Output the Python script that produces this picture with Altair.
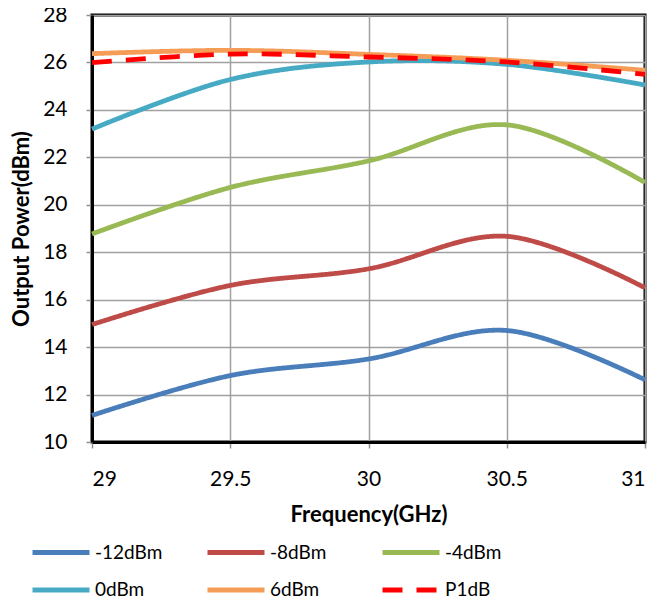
import altair as alt
import pandas as pd

freq = [29.0, 29.5, 30.0, 30.5, 31.0]
p_m12 = [11.12, 12.80, 13.50, 14.70, 12.62]
p_m8 = [14.95, 16.60, 17.30, 18.67, 16.50]
p_m4 = [18.77, 20.73, 21.85, 23.37, 20.94]
p_0 = [23.19, 25.28, 26.02, 25.92, 25.05]
p_6 = [26.37, 26.51, 26.34, 26.09, 25.67]
p_1db = [25.99, 26.35, 26.23, 26.02, 25.50]

series = ["-12dBm", "-8dBm", "-4dBm", "0dBm", "6dBm", "P1dB"]
colors = ["#4A7EBB", "#BE4B48", "#98B954", "#46AAC5", "#F59D56", "#FF0000"]
dashes = [[1, 0], [1, 0], [1, 0], [1, 0], [1, 0], [20, 14]]
x_ticks = [29, 29.5, 30, 30.5, 31]
y_ticks = [10, 12, 14, 16, 18, 20, 22, 24, 26, 28]

values = [p_m12, p_m8, p_m4, p_0, p_6, p_1db]
rows = []
for s, vals in zip(series, values):
    for f, v in zip(freq, vals):
        rows.append({"series": s, "freq": f, "power": v, "order": series.index(s)})
df = pd.DataFrame(rows)

FONT = "Lato"


def make_legend():
    return alt.Legend(orient="none", legendX=-62, legendY=527.5,
                      direction="horizontal", columns=3,
                      symbolType="stroke", symbolSize=3249, clipHeight=20,
                      symbolStrokeWidth=5, labelFont=FONT,
                      labelFontSize=19, labelColor="black",
                      columnPadding=42, rowPadding=17.5,
                      title=None, gridAlign="all", labelOffset=3)


chart = alt.Chart(df).mark_line(
    interpolate="cardinal", tension=0, strokeWidth=4.8, strokeCap="butt"
).encode(
    x=alt.X("freq:Q", scale=alt.Scale(domain=[29, 31], nice=False, zero=False),
            axis=alt.Axis(values=x_ticks, title="Frequency(GHz)", format="~g",
                          labelPadding=20, titlePadding=15)),
    y=alt.Y("power:Q", scale=alt.Scale(domain=[10, 28], nice=False, zero=False),
            axis=alt.Axis(values=y_ticks, title="Output Power(dBm)",
                          labelPadding=19, titlePadding=9)),
    color=alt.Color("series:N", scale=alt.Scale(domain=series, range=colors),
                    legend=make_legend()),
    strokeDash=alt.StrokeDash("series:N", scale=alt.Scale(domain=series, range=dashes),
                              legend=make_legend()),
    order=alt.Order("order:Q"),
).properties(
    width=553, height=427,
    autosize=alt.AutoSizeParams(type="none"),
    padding={"left": 84, "top": 7, "right": 6, "bottom": 162},
).configure_view(
    stroke="black", strokeWidth=3
).configure_axis(
    labelFont=FONT, labelFontSize=21, labelColor="black",
    titleFont=FONT, titleFontSize=22, titleFontWeight="bold", titleColor="black",
    gridColor="#A0A0A0", gridWidth=1.5, domainColor="black", domainWidth=3,
    tickColor="#909090", tickSize=6, tickWidth=1.5,
)

chart.save("out.html", embed_options={"renderer": "svg", "actions": False})
